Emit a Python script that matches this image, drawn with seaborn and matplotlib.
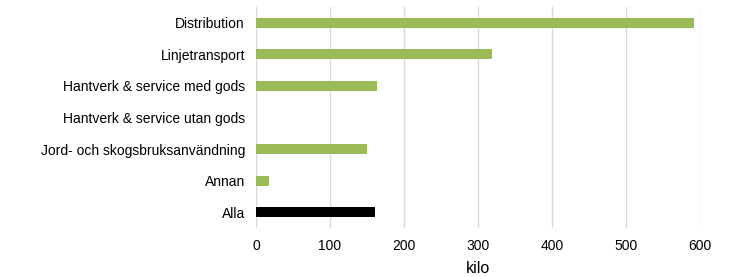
import matplotlib
matplotlib.use("Agg")
import matplotlib.pyplot as plt
import seaborn as sns
import pandas as pd

categories = ["Distribution", "Linjetransport", "Hantverk & service med gods",
              "Hantverk & service utan gods", "Jord- och skogsbruksanvändning",
              "Annan", "Alla"]
values = [592, 319, 163, 0, 150, 18, 161]
bar_colors = ["#9BBB59", "#9BBB59", "#9BBB59", "#9BBB59", "#9BBB59", "#9BBB59", "#000000"]
xticks = [0, 100, 200, 300, 400, 500, 600]
xlabel = "kilo"

sns.set_theme(style="white")
plt.rcParams['font.family'] = ['Liberation Sans', 'DejaVu Sans']

df = pd.DataFrame({"cat": categories, "val": values})

fig = plt.figure(figsize=(7.46, 2.77), dpi=100)
ax = fig.add_axes([256/746, 1-228/277, (700.3-256)/746, (228-7)/277])

sns.barplot(data=df, x="val", y="cat", hue="cat", palette=bar_colors,
            legend=False, width=0.31, ax=ax, saturation=1, edgecolor="none")

ax.set_xlim(0, 600)
ax.set_ylim(6.5, -0.5)
ax.set_xticks(xticks)
ax.set_xticklabels([str(t) for t in xticks])
ax.xaxis.grid(True, color="#D9D9D9", linewidth=1)
ax.yaxis.grid(False)
ax.set_axisbelow(True)
for s in ax.spines.values():
    s.set_visible(False)
ax.tick_params(axis="both", length=0, labelsize=10, colors="black", pad=8)
ax.tick_params(axis="x", pad=8)
ax.set_ylabel("")
ax.set_xlabel(xlabel, fontsize=11.5, color="black", labelpad=6)

fig.savefig("out.png", dpi=100)
